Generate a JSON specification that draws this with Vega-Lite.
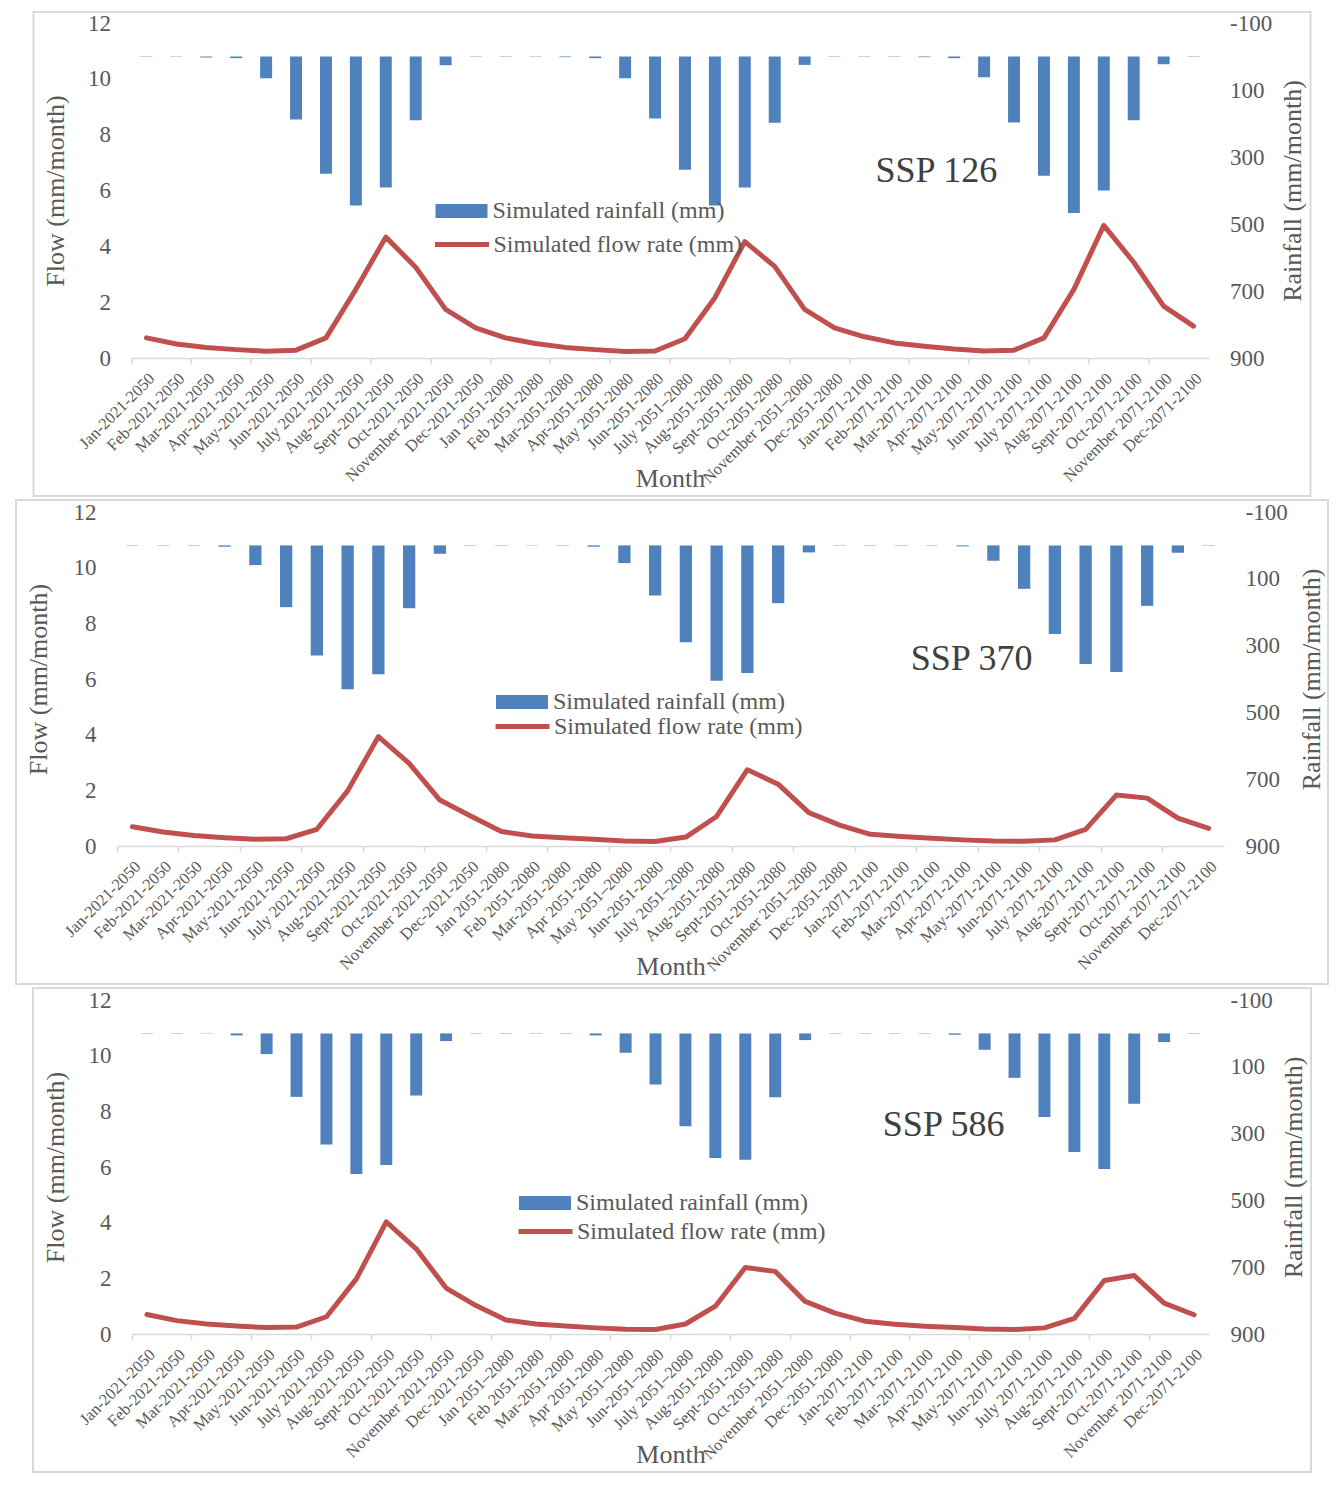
{
  "$schema": "https://vega.github.io/schema/vega-lite/v6.json",
  "padding": {"left": 15, "top": 11, "right": 0, "bottom": 0},
  "background": "white",
  "config": {
    "font": "Liberation Serif",
    "view": {"stroke": "#d9d9d9", "strokeWidth": 2},
    "axis": {"labelFont": "Liberation Serif", "titleFont": "Liberation Serif", "labelColor": "#595959", "titleColor": "#595959", "titleFontWeight": "normal", "grid": false},
    "legend": {"labelFont": "Liberation Serif", "labelColor": "#595959", "labelFontSize": 24, "labelLimit": 400, "labelOffset": 5, "padding": 0}
  },
  "datasets": {
    "p1": [
      {"month": "Jan-2021-2050", "rain": 1, "flow": 0.72},
      {"month": "Feb-2021-2050", "rain": 1, "flow": 0.50},
      {"month": "Mar-2021-2050", "rain": 3, "flow": 0.38},
      {"month": "Apr-2021-2050", "rain": 5, "flow": 0.30},
      {"month": "May-2021-2050", "rain": 65, "flow": 0.24},
      {"month": "Jun-2021-2050", "rain": 188, "flow": 0.28},
      {"month": "July 2021-2050", "rain": 350, "flow": 0.72},
      {"month": "Aug-2021-2050", "rain": 445, "flow": 2.46},
      {"month": "Sept-2021-2050", "rain": 391, "flow": 4.33},
      {"month": "Oct-2021-2050", "rain": 190, "flow": 3.25},
      {"month": "November 2021-2050", "rain": 26, "flow": 1.74},
      {"month": "Dec-2021-2050", "rain": 1, "flow": 1.08},
      {"month": "Jan 2051-2080", "rain": 1, "flow": 0.72},
      {"month": "Feb 2051-2080", "rain": 1, "flow": 0.52},
      {"month": "Mar-2051-2080", "rain": 2, "flow": 0.38},
      {"month": "Apr-2051-2080", "rain": 5, "flow": 0.30},
      {"month": "May 2051-2080", "rain": 65, "flow": 0.23},
      {"month": "Jun-2051-2080", "rain": 185, "flow": 0.25},
      {"month": "July 2051–2080", "rain": 338, "flow": 0.69},
      {"month": "Aug-2051-2080", "rain": 445, "flow": 2.16},
      {"month": "Sept-2051-2080", "rain": 391, "flow": 4.17},
      {"month": "Oct-2051-2080", "rain": 198, "flow": 3.28},
      {"month": "November 2051–2080", "rain": 25, "flow": 1.74},
      {"month": "Dec-2051-2080", "rain": 1, "flow": 1.08},
      {"month": "Jan-2071-2100", "rain": 1, "flow": 0.76},
      {"month": "Feb-2071-2100", "rain": 1, "flow": 0.54},
      {"month": "Mar-2071-2100", "rain": 2, "flow": 0.42},
      {"month": "Apr-2071-2100", "rain": 5, "flow": 0.32},
      {"month": "May-2071-2100", "rain": 62, "flow": 0.25},
      {"month": "Jun-2071-2100", "rain": 197, "flow": 0.28},
      {"month": "July 2071-2100", "rain": 356, "flow": 0.72},
      {"month": "Aug-2071-2100", "rain": 467, "flow": 2.46},
      {"month": "Sept-2071-2100", "rain": 400, "flow": 4.75},
      {"month": "Oct-2071-2100", "rain": 190, "flow": 3.43},
      {"month": "November 2071-2100", "rain": 23, "flow": 1.86},
      {"month": "Dec-2071-2100", "rain": 1, "flow": 1.14}
    ],
    "p2": [
      {"month": "Jan-2021-2050", "rain": 1, "flow": 0.69},
      {"month": "Feb-2021-2050", "rain": 1, "flow": 0.50},
      {"month": "Mar-2021-2050", "rain": 1, "flow": 0.38},
      {"month": "Apr-2021-2050", "rain": 4, "flow": 0.30},
      {"month": "May-2021-2050", "rain": 59, "flow": 0.24},
      {"month": "Jun-2021-2050", "rain": 185, "flow": 0.26},
      {"month": "July 2021-2050", "rain": 330, "flow": 0.60},
      {"month": "Aug-2021-2050", "rain": 431, "flow": 1.98},
      {"month": "Sept-2021-2050", "rain": 386, "flow": 3.93},
      {"month": "Oct-2021-2050", "rain": 188, "flow": 2.97},
      {"month": "November 2021-2050", "rain": 25, "flow": 1.65},
      {"month": "Dec-2021-2050", "rain": 1, "flow": 1.08},
      {"month": "Jan 2051-2080", "rain": 1, "flow": 0.52},
      {"month": "Feb 2051-2080", "rain": 1, "flow": 0.36},
      {"month": "Mar-2051-2080", "rain": 1, "flow": 0.30},
      {"month": "Apr 2051-2080", "rain": 4, "flow": 0.24},
      {"month": "May 2051–2080", "rain": 53, "flow": 0.18},
      {"month": "Jun-2051-2080", "rain": 150, "flow": 0.16},
      {"month": "July 2051–2080", "rain": 290, "flow": 0.32},
      {"month": "Aug-2051-2080", "rain": 405, "flow": 1.06},
      {"month": "Sept-2051-2080", "rain": 382, "flow": 2.74},
      {"month": "Oct-2051-2080", "rain": 173, "flow": 2.22},
      {"month": "November 2051–2080", "rain": 21, "flow": 1.20},
      {"month": "Dec-2051-2080", "rain": 1, "flow": 0.75},
      {"month": "Jan-2071-2100", "rain": 1, "flow": 0.42},
      {"month": "Feb-2071-2100", "rain": 1, "flow": 0.34},
      {"month": "Mar-2071-2100", "rain": 1, "flow": 0.28},
      {"month": "Apr-2071-2100", "rain": 3, "flow": 0.22},
      {"month": "May-2071-2100", "rain": 46, "flow": 0.18},
      {"month": "Jun-2071-2100", "rain": 130, "flow": 0.17},
      {"month": "July 2071-2100", "rain": 265, "flow": 0.22},
      {"month": "Aug-2071-2100", "rain": 355, "flow": 0.60},
      {"month": "Sept-2071-2100", "rain": 379, "flow": 1.83},
      {"month": "Oct-2071-2100", "rain": 181, "flow": 1.72},
      {"month": "November 2071-2100", "rain": 22, "flow": 1.00},
      {"month": "Dec-2071-2100", "rain": 1, "flow": 0.63}
    ],
    "p3": [
      {"month": "Jan-2021-2050", "rain": 1, "flow": 0.70},
      {"month": "Feb-2021-2050", "rain": 1, "flow": 0.48},
      {"month": "Mar-2021-2050", "rain": 1, "flow": 0.36},
      {"month": "Apr-2021-2050", "rain": 6, "flow": 0.29},
      {"month": "May-2021-2050", "rain": 62, "flow": 0.23},
      {"month": "Jun-2021-2050", "rain": 190, "flow": 0.25},
      {"month": "July 2021-2050", "rain": 333, "flow": 0.62},
      {"month": "Aug-2021-2050", "rain": 421, "flow": 1.98},
      {"month": "Sept-2021-2050", "rain": 394, "flow": 4.03},
      {"month": "Oct-2021-2050", "rain": 186, "flow": 3.06},
      {"month": "November 2021-2050", "rain": 23, "flow": 1.65},
      {"month": "Dec-2021-2050", "rain": 1, "flow": 1.02},
      {"month": "Jan 2051–2080", "rain": 1, "flow": 0.50},
      {"month": "Feb 2051-2080", "rain": 1, "flow": 0.36},
      {"month": "Mar-2051-2080", "rain": 1, "flow": 0.29},
      {"month": "Apr 2051-2080", "rain": 6, "flow": 0.22},
      {"month": "May 2051–2080", "rain": 58, "flow": 0.17},
      {"month": "Jun-2051–2080", "rain": 153, "flow": 0.16},
      {"month": "July 2051–2080", "rain": 278, "flow": 0.36},
      {"month": "Aug-2051-2080", "rain": 373, "flow": 1.00},
      {"month": "Sept-2051-2080", "rain": 378, "flow": 2.39},
      {"month": "Oct-2051-2080", "rain": 191, "flow": 2.25},
      {"month": "November 2051–2080", "rain": 20, "flow": 1.17},
      {"month": "Dec-2051-2080", "rain": 1, "flow": 0.75},
      {"month": "Jan-2071-2100", "rain": 1, "flow": 0.46},
      {"month": "Feb-2071-2100", "rain": 1, "flow": 0.35},
      {"month": "Mar-2071-2100", "rain": 1, "flow": 0.28},
      {"month": "Apr-2071-2100", "rain": 4, "flow": 0.23},
      {"month": "May-2071-2100", "rain": 49, "flow": 0.18},
      {"month": "Jun-2071-2100", "rain": 133, "flow": 0.16},
      {"month": "July 2071-2100", "rain": 250, "flow": 0.22},
      {"month": "Aug-2071-2100", "rain": 355, "flow": 0.56},
      {"month": "Sept-2071-2100", "rain": 406, "flow": 1.92},
      {"month": "Oct-2071-2100", "rain": 211, "flow": 2.10},
      {"month": "November 2071-2100", "rain": 26, "flow": 1.11},
      {"month": "Dec-2071-2100", "rain": 1, "flow": 0.69}
    ],
    "s1": [{"month": "Mar-2071-2100", "flow": 6.7, "label": "SSP 126"}],
    "s2": [{"month": "Apr-2071-2100", "flow": 6.73, "label": "SSP 370"}],
    "s3": [{"month": "Apr-2071-2100", "flow": 7.52, "label": "SSP 586"}]
  },
  "vconcat": [
    {
      "width": 1277, "height": 484,
      "layer": [
        {
          "data": {"name": "p1"},
          "mark": {"type": "bar", "width": {"band": 0.4}},
          "encoding": {
            "x": {"field": "month", "type": "nominal", "sort": null,
              "scale": {"domain": ["Jan-2021-2050","Feb-2021-2050","Mar-2021-2050","Apr-2021-2050","May-2021-2050","Jun-2021-2050","July 2021-2050","Aug-2021-2050","Sept-2021-2050","Oct-2021-2050","November 2021-2050","Dec-2021-2050","Jan 2051-2080","Feb 2051-2080","Mar-2051-2080","Apr-2051-2080","May 2051-2080","Jun-2051-2080","July 2051–2080","Aug-2051-2080","Sept-2051-2080","Oct-2051-2080","November 2051–2080","Dec-2051-2080","Jan-2071-2100","Feb-2071-2100","Mar-2071-2100","Apr-2071-2100","May-2071-2100","Jun-2071-2100","July 2071-2100","Aug-2071-2100","Sept-2071-2100","Oct-2071-2100","November 2071-2100","Dec-2071-2100"], "range": [98, 1175], "paddingInner": 0, "paddingOuter": 0},
              "axis": {"orient": "bottom", "offset": -138, "title": "Month", "titleFontSize": 26, "titleX": 636.5, "titleY": 120, "titleAlign": "center", "titleBaseline": "middle", "labelAngle": -45, "labelFontSize": 16.5, "labelOverlap": false, "labelLimit": 300, "labelPadding": 12, "ticks": false, "domainColor": "#d9d9d9", "domainWidth": 1.5}},
            "y": {"field": "rain", "type": "quantitative", "scale": {"domain": [-100, 900], "range": [11, 346], "zero": false, "nice": false},
              "axis": {"orient": "right", "offset": -102, "values": [-100, 100, 300, 500, 700, 900], "labelExpr": "replace(datum.label, '−', '-')", "domain": false, "ticks": false, "labelPadding": 21, "labelFontSize": 23, "title": "Rainfall (mm/month)", "titleFontSize": 26, "titleAngle": -90, "titleX": 84, "titleY": 178.5, "titleAlign": "center", "titleBaseline": "middle"}},
            "y2": {"datum": 0},
            "fill": {"datum": "Simulated rainfall (mm)", "type": "nominal", "scale": {"range": ["#4f81bd"]},
              "legend": {"orient": "none", "legendX": 402, "legendY": 173, "title": null, "symbolType": "M-1,-0.27H1V0.27H-1Z", "symbolSize": 2704, "symbolStrokeWidth": 0}}
          }
        },
        {
          "data": {"name": "p1"},
          "mark": {"type": "line", "strokeWidth": 5, "strokeJoin": "round", "strokeCap": "round"},
          "encoding": {
            "x": {"field": "month", "type": "nominal", "sort": null,
              "scale": {"domain": ["Jan-2021-2050","Feb-2021-2050","Mar-2021-2050","Apr-2021-2050","May-2021-2050","Jun-2021-2050","July 2021-2050","Aug-2021-2050","Sept-2021-2050","Oct-2021-2050","November 2021-2050","Dec-2021-2050","Jan 2051-2080","Feb 2051-2080","Mar-2051-2080","Apr-2051-2080","May 2051-2080","Jun-2051-2080","July 2051–2080","Aug-2051-2080","Sept-2051-2080","Oct-2051-2080","November 2051–2080","Dec-2051-2080","Jan-2071-2100","Feb-2071-2100","Mar-2071-2100","Apr-2071-2100","May-2071-2100","Jun-2071-2100","July 2071-2100","Aug-2071-2100","Sept-2071-2100","Oct-2071-2100","November 2071-2100","Dec-2071-2100"], "range": [98, 1175], "paddingInner": 0, "paddingOuter": 0},
              "axis": {"orient": "bottom", "offset": -138, "title": null, "labels": false, "domain": false, "ticks": true, "tickSize": 6, "tickColor": "#d9d9d9", "tickWidth": 1.5, "bandPosition": 0,
                "values": ["Jan-2021-2050","Mar-2021-2050","May-2021-2050","July 2021-2050","Sept-2021-2050","November 2021-2050","Jan 2051-2080","Mar-2051-2080","May 2051-2080","July 2051–2080","Sept-2051-2080","November 2051–2080","Jan-2071-2100","Mar-2071-2100","May-2071-2100","July 2071-2100","Sept-2071-2100","November 2071-2100"]}},
            "y": {"field": "flow", "type": "quantitative", "scale": {"domain": [0, 12], "range": [346, 11], "zero": false, "nice": false},
              "axis": {"orient": "left", "offset": -98, "values": [0, 2, 4, 6, 8, 10, 12], "domain": false, "ticks": false, "labelPadding": 21, "labelFontSize": 23, "title": "Flow (mm/month)", "titleFontSize": 26, "titleAngle": -90, "titleX": -76, "titleY": 178.5, "titleAlign": "center", "titleBaseline": "middle"}},
            "stroke": {"datum": "Simulated flow rate (mm)", "type": "nominal", "scale": {"range": ["#c0504d"]},
              "legend": {"orient": "none", "legendX": 399, "legendY": 203, "title": null, "symbolType": "stroke", "symbolSize": 2916, "symbolStrokeWidth": 5, "labelOffset": 2}}
          }
        },
        {
          "data": {"name": "s1"},
          "mark": {"type": "text", "fontSize": 36, "color": "#404040", "dx": 12, "baseline": "middle"},
          "encoding": {
            "x": {"field": "month", "type": "nominal", "sort": null,
              "scale": {"domain": ["Jan-2021-2050","Feb-2021-2050","Mar-2021-2050","Apr-2021-2050","May-2021-2050","Jun-2021-2050","July 2021-2050","Aug-2021-2050","Sept-2021-2050","Oct-2021-2050","November 2021-2050","Dec-2021-2050","Jan 2051-2080","Feb 2051-2080","Mar-2051-2080","Apr-2051-2080","May 2051-2080","Jun-2051-2080","July 2051–2080","Aug-2051-2080","Sept-2051-2080","Oct-2051-2080","November 2051–2080","Dec-2051-2080","Jan-2071-2100","Feb-2071-2100","Mar-2071-2100","Apr-2071-2100","May-2071-2100","Jun-2071-2100","July 2071-2100","Aug-2071-2100","Sept-2071-2100","Oct-2071-2100","November 2071-2100","Dec-2071-2100"], "range": [98, 1175], "paddingInner": 0, "paddingOuter": 0},
              "axis": null},
            "y": {"field": "flow", "type": "quantitative", "scale": {"domain": [0, 12], "range": [346, 11], "zero": false, "nice": false}, "axis": null},
            "text": {"field": "label"}
          }
        }
      ],
      "resolve": {"scale": {"y": "independent"}, "axis": {"x": "independent", "y": "independent"}}
    },
    {
      "width": 1312, "height": 484,
      "layer": [
        {
          "data": {"name": "p2"},
          "mark": {"type": "bar", "width": {"band": 0.4}},
          "encoding": {
            "x": {"field": "month", "type": "nominal", "sort": null,
              "scale": {"domain": ["Jan-2021-2050","Feb-2021-2050","Mar-2021-2050","Apr-2021-2050","May-2021-2050","Jun-2021-2050","July 2021-2050","Aug-2021-2050","Sept-2021-2050","Oct-2021-2050","November 2021-2050","Dec-2021-2050","Jan 2051-2080","Feb 2051-2080","Mar-2051-2080","Apr 2051-2080","May 2051–2080","Jun-2051-2080","July 2051–2080","Aug-2051-2080","Sept-2051-2080","Oct-2051-2080","November 2051–2080","Dec-2051-2080","Jan-2071-2100","Feb-2071-2100","Mar-2071-2100","Apr-2071-2100","May-2071-2100","Jun-2071-2100","July 2071-2100","Aug-2071-2100","Sept-2071-2100","Oct-2071-2100","November 2071-2100","Dec-2071-2100"], "range": [101, 1208], "paddingInner": 0, "paddingOuter": 0},
              "axis": {"orient": "bottom", "offset": -138, "title": "Month", "titleFontSize": 26, "titleX": 654.5, "titleY": 120, "titleAlign": "center", "titleBaseline": "middle", "labelAngle": -45, "labelFontSize": 16.5, "labelOverlap": false, "labelLimit": 300, "labelPadding": 12, "ticks": false, "domainColor": "#d9d9d9", "domainWidth": 1.5}},
            "y": {"field": "rain", "type": "quantitative", "scale": {"domain": [-100, 900], "range": [12, 346], "zero": false, "nice": false},
              "axis": {"orient": "right", "offset": -104, "values": [-100, 100, 300, 500, 700, 900], "labelExpr": "replace(datum.label, '−', '-')", "domain": false, "ticks": false, "labelPadding": 21, "labelFontSize": 23, "title": "Rainfall (mm/month)", "titleFontSize": 26, "titleAngle": -90, "titleX": 87, "titleY": 179, "titleAlign": "center", "titleBaseline": "middle"}},
            "y2": {"datum": 0},
            "fill": {"datum": "Simulated rainfall (mm)", "type": "nominal", "scale": {"range": ["#4f81bd"]},
              "legend": {"orient": "none", "legendX": 480, "legendY": 176, "title": null, "symbolType": "M-1,-0.27H1V0.27H-1Z", "symbolSize": 2704, "symbolStrokeWidth": 0}}
          }
        },
        {
          "data": {"name": "p2"},
          "mark": {"type": "line", "strokeWidth": 5, "strokeJoin": "round", "strokeCap": "round"},
          "encoding": {
            "x": {"field": "month", "type": "nominal", "sort": null,
              "scale": {"domain": ["Jan-2021-2050","Feb-2021-2050","Mar-2021-2050","Apr-2021-2050","May-2021-2050","Jun-2021-2050","July 2021-2050","Aug-2021-2050","Sept-2021-2050","Oct-2021-2050","November 2021-2050","Dec-2021-2050","Jan 2051-2080","Feb 2051-2080","Mar-2051-2080","Apr 2051-2080","May 2051–2080","Jun-2051-2080","July 2051–2080","Aug-2051-2080","Sept-2051-2080","Oct-2051-2080","November 2051–2080","Dec-2051-2080","Jan-2071-2100","Feb-2071-2100","Mar-2071-2100","Apr-2071-2100","May-2071-2100","Jun-2071-2100","July 2071-2100","Aug-2071-2100","Sept-2071-2100","Oct-2071-2100","November 2071-2100","Dec-2071-2100"], "range": [101, 1208], "paddingInner": 0, "paddingOuter": 0},
              "axis": {"orient": "bottom", "offset": -138, "title": null, "labels": false, "domain": false, "ticks": true, "tickSize": 6, "tickColor": "#d9d9d9", "tickWidth": 1.5, "bandPosition": 0,
                "values": ["Jan-2021-2050","Mar-2021-2050","May-2021-2050","July 2021-2050","Sept-2021-2050","November 2021-2050","Jan 2051-2080","Mar-2051-2080","May 2051–2080","July 2051–2080","Sept-2051-2080","November 2051–2080","Jan-2071-2100","Mar-2071-2100","May-2071-2100","July 2071-2100","Sept-2071-2100","November 2071-2100"]}},
            "y": {"field": "flow", "type": "quantitative", "scale": {"domain": [0, 12], "range": [346, 12], "zero": false, "nice": false},
              "axis": {"orient": "left", "offset": -101, "values": [0, 2, 4, 6, 8, 10, 12], "domain": false, "ticks": false, "labelPadding": 21, "labelFontSize": 23, "title": "Flow (mm/month)", "titleFontSize": 26, "titleAngle": -90, "titleX": -79, "titleY": 179, "titleAlign": "center", "titleBaseline": "middle"}},
            "stroke": {"datum": "Simulated flow rate (mm)", "type": "nominal", "scale": {"range": ["#c0504d"]},
              "legend": {"orient": "none", "legendX": 477, "legendY": 197, "title": null, "symbolType": "stroke", "symbolSize": 2916, "symbolStrokeWidth": 5, "labelOffset": 2}}
          }
        },
        {
          "data": {"name": "s2"},
          "mark": {"type": "text", "fontSize": 36, "color": "#404040", "dx": 9, "baseline": "middle"},
          "encoding": {
            "x": {"field": "month", "type": "nominal", "sort": null,
              "scale": {"domain": ["Jan-2021-2050","Feb-2021-2050","Mar-2021-2050","Apr-2021-2050","May-2021-2050","Jun-2021-2050","July 2021-2050","Aug-2021-2050","Sept-2021-2050","Oct-2021-2050","November 2021-2050","Dec-2021-2050","Jan 2051-2080","Feb 2051-2080","Mar-2051-2080","Apr 2051-2080","May 2051–2080","Jun-2051-2080","July 2051–2080","Aug-2051-2080","Sept-2051-2080","Oct-2051-2080","November 2051–2080","Dec-2051-2080","Jan-2071-2100","Feb-2071-2100","Mar-2071-2100","Apr-2071-2100","May-2071-2100","Jun-2071-2100","July 2071-2100","Aug-2071-2100","Sept-2071-2100","Oct-2071-2100","November 2071-2100","Dec-2071-2100"], "range": [101, 1208], "paddingInner": 0, "paddingOuter": 0},
              "axis": null},
            "y": {"field": "flow", "type": "quantitative", "scale": {"domain": [0, 12], "range": [346, 12], "zero": false, "nice": false}, "axis": null},
            "text": {"field": "label"}
          }
        }
      ],
      "resolve": {"scale": {"y": "independent"}, "axis": {"x": "independent", "y": "independent"}}
    },
    {
      "width": 1278, "height": 484,
      "layer": [
        {
          "data": {"name": "p3"},
          "mark": {"type": "bar", "width": {"band": 0.4}},
          "encoding": {
            "x": {"field": "month", "type": "nominal", "sort": null,
              "scale": {"domain": ["Jan-2021-2050","Feb-2021-2050","Mar-2021-2050","Apr-2021-2050","May-2021-2050","Jun-2021-2050","July 2021-2050","Aug-2021-2050","Sept-2021-2050","Oct-2021-2050","November 2021-2050","Dec-2021-2050","Jan 2051–2080","Feb 2051-2080","Mar-2051-2080","Apr 2051-2080","May 2051–2080","Jun-2051–2080","July 2051–2080","Aug-2051-2080","Sept-2051-2080","Oct-2051-2080","November 2051–2080","Dec-2051-2080","Jan-2071-2100","Feb-2071-2100","Mar-2071-2100","Apr-2071-2100","May-2071-2100","Jun-2071-2100","July 2071-2100","Aug-2071-2100","Sept-2071-2100","Oct-2071-2100","November 2071-2100","Dec-2071-2100"], "range": [99, 1176], "paddingInner": 0, "paddingOuter": 0},
              "axis": {"orient": "bottom", "offset": -138, "title": "Month", "titleFontSize": 26, "titleX": 637.5, "titleY": 120, "titleAlign": "center", "titleBaseline": "middle", "labelAngle": -45, "labelFontSize": 16.5, "labelOverlap": false, "labelLimit": 300, "labelPadding": 12, "ticks": false, "domainColor": "#d9d9d9", "domainWidth": 1.5}},
            "y": {"field": "rain", "type": "quantitative", "scale": {"domain": [-100, 900], "range": [12, 346], "zero": false, "nice": false},
              "axis": {"orient": "right", "offset": -102, "values": [-100, 100, 300, 500, 700, 900], "labelExpr": "replace(datum.label, '−', '-')", "domain": false, "ticks": false, "labelPadding": 21, "labelFontSize": 23, "title": "Rainfall (mm/month)", "titleFontSize": 26, "titleAngle": -90, "titleX": 84, "titleY": 179, "titleAlign": "center", "titleBaseline": "middle"}},
            "y2": {"datum": 0},
            "fill": {"datum": "Simulated rainfall (mm)", "type": "nominal", "scale": {"range": ["#4f81bd"]},
              "legend": {"orient": "none", "legendX": 486, "legendY": 189, "title": null, "symbolType": "M-1,-0.27H1V0.27H-1Z", "symbolSize": 2704, "symbolStrokeWidth": 0}}
          }
        },
        {
          "data": {"name": "p3"},
          "mark": {"type": "line", "strokeWidth": 5, "strokeJoin": "round", "strokeCap": "round"},
          "encoding": {
            "x": {"field": "month", "type": "nominal", "sort": null,
              "scale": {"domain": ["Jan-2021-2050","Feb-2021-2050","Mar-2021-2050","Apr-2021-2050","May-2021-2050","Jun-2021-2050","July 2021-2050","Aug-2021-2050","Sept-2021-2050","Oct-2021-2050","November 2021-2050","Dec-2021-2050","Jan 2051–2080","Feb 2051-2080","Mar-2051-2080","Apr 2051-2080","May 2051–2080","Jun-2051–2080","July 2051–2080","Aug-2051-2080","Sept-2051-2080","Oct-2051-2080","November 2051–2080","Dec-2051-2080","Jan-2071-2100","Feb-2071-2100","Mar-2071-2100","Apr-2071-2100","May-2071-2100","Jun-2071-2100","July 2071-2100","Aug-2071-2100","Sept-2071-2100","Oct-2071-2100","November 2071-2100","Dec-2071-2100"], "range": [99, 1176], "paddingInner": 0, "paddingOuter": 0},
              "axis": {"orient": "bottom", "offset": -138, "title": null, "labels": false, "domain": false, "ticks": true, "tickSize": 6, "tickColor": "#d9d9d9", "tickWidth": 1.5, "bandPosition": 0,
                "values": ["Jan-2021-2050","Mar-2021-2050","May-2021-2050","July 2021-2050","Sept-2021-2050","November 2021-2050","Jan 2051–2080","Mar-2051-2080","May 2051–2080","July 2051–2080","Sept-2051-2080","November 2051–2080","Jan-2071-2100","Mar-2071-2100","May-2071-2100","July 2071-2100","Sept-2071-2100","November 2071-2100"]}},
            "y": {"field": "flow", "type": "quantitative", "scale": {"domain": [0, 12], "range": [346, 12], "zero": false, "nice": false},
              "axis": {"orient": "left", "offset": -99, "values": [0, 2, 4, 6, 8, 10, 12], "domain": false, "ticks": false, "labelPadding": 21, "labelFontSize": 23, "title": "Flow (mm/month)", "titleFontSize": 26, "titleAngle": -90, "titleX": -77, "titleY": 179, "titleAlign": "center", "titleBaseline": "middle"}},
            "stroke": {"datum": "Simulated flow rate (mm)", "type": "nominal", "scale": {"range": ["#c0504d"]},
              "legend": {"orient": "none", "legendX": 483, "legendY": 214, "title": null, "symbolType": "stroke", "symbolSize": 2916, "symbolStrokeWidth": 5, "labelOffset": 2}}
          }
        },
        {
          "data": {"name": "s3"},
          "mark": {"type": "text", "fontSize": 36, "color": "#404040", "dx": -11, "baseline": "middle"},
          "encoding": {
            "x": {"field": "month", "type": "nominal", "sort": null,
              "scale": {"domain": ["Jan-2021-2050","Feb-2021-2050","Mar-2021-2050","Apr-2021-2050","May-2021-2050","Jun-2021-2050","July 2021-2050","Aug-2021-2050","Sept-2021-2050","Oct-2021-2050","November 2021-2050","Dec-2021-2050","Jan 2051–2080","Feb 2051-2080","Mar-2051-2080","Apr 2051-2080","May 2051–2080","Jun-2051–2080","July 2051–2080","Aug-2051-2080","Sept-2051-2080","Oct-2051-2080","November 2051–2080","Dec-2051-2080","Jan-2071-2100","Feb-2071-2100","Mar-2071-2100","Apr-2071-2100","May-2071-2100","Jun-2071-2100","July 2071-2100","Aug-2071-2100","Sept-2071-2100","Oct-2071-2100","November 2071-2100","Dec-2071-2100"], "range": [99, 1176], "paddingInner": 0, "paddingOuter": 0},
              "axis": null},
            "y": {"field": "flow", "type": "quantitative", "scale": {"domain": [0, 12], "range": [346, 12], "zero": false, "nice": false}, "axis": null},
            "text": {"field": "label"}
          }
        }
      ],
      "resolve": {"scale": {"y": "independent"}, "axis": {"x": "independent", "y": "independent"}}
    }
  ],
  "spacing": 4,
  "center": true,
  "bounds": "flush",
  "resolve": {"scale": {"fill": "independent", "stroke": "independent"}, "legend": {"fill": "independent", "stroke": "independent"}}
}
